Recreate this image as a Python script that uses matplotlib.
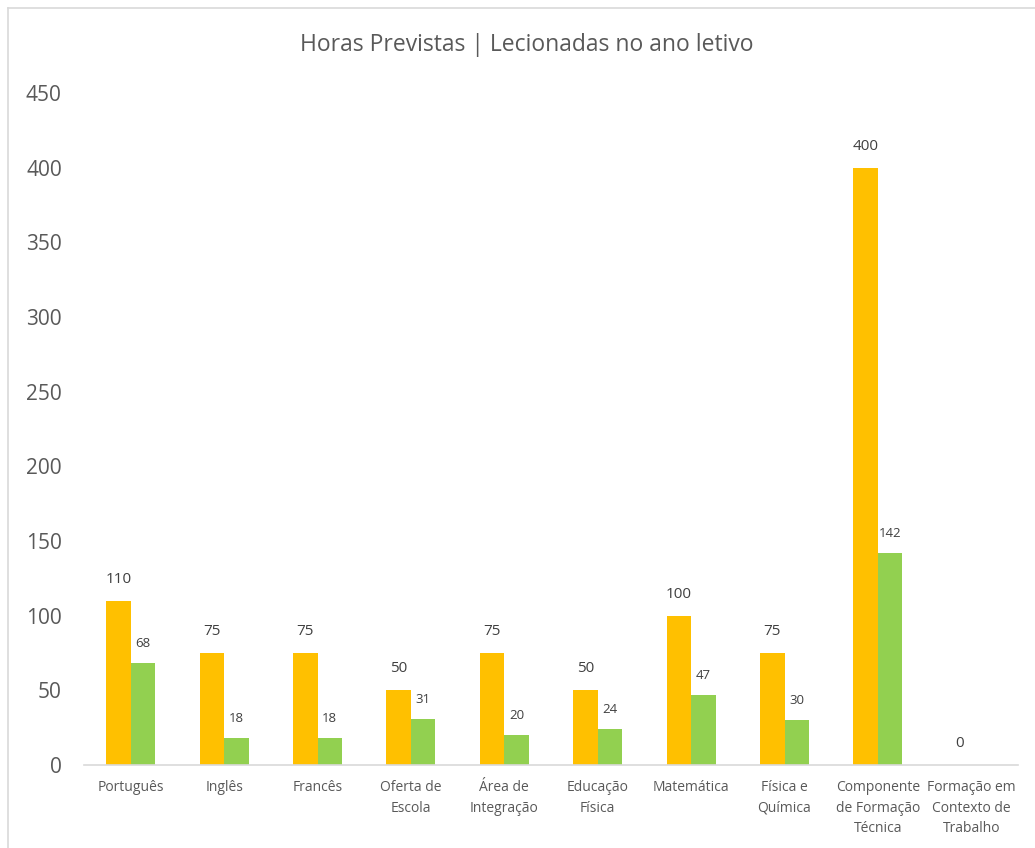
import matplotlib
matplotlib.use("Agg")
import matplotlib.pyplot as plt
import numpy as np

categories = ["Português", "Inglês", "Francês", "Oferta de\nEscola", "Área de\nIntegração",
              "Educação\nFísica", "Matemática", "Física e\nQuímica",
              "Componente\nde Formação\nTécnica", "Formação em\nContexto de\nTrabalho"]
previstas = [110, 75, 75, 50, 75, 50, 100, 75, 400, 0]
lecionadas = [68, 18, 18, 31, 20, 24, 47, 30, 142, None]
yticks = [0, 50, 100, 150, 200, 250, 300, 350, 400, 450]

plt.rcParams['font.family'] = ['Open Sans', 'DejaVu Sans']
TXT = "#595959"
ORANGE = "#FFC000"
GREEN = "#92D050"

W, H = 1035, 848
fig = plt.figure(figsize=(W / 100, H / 100), dpi=100)
ax = fig.add_axes([84 / W, 1 - 765 / H, (1018 - 84) / W, (765 - 93) / H])

x = np.arange(len(categories))
bw = 0.262
prev_vals = [v if v is not None else 0 for v in previstas]
lec_vals = [v if v is not None else 0 for v in lecionadas]
ax.bar(x - bw / 2, prev_vals, bw, color=ORANGE, zorder=2)
ax.bar(x + bw / 2, lec_vals, bw, color=GREEN, zorder=2)

for xi, v in zip(x, previstas):
    if v is not None:
        ax.annotate(str(v), (xi - bw / 2, v), xytext=(0, 10), textcoords="offset points",
                    ha="center", va="bottom", fontsize=11, color="#404040")
for xi, v in zip(x, lecionadas):
    if v is not None:
        ax.annotate(str(v), (xi + bw / 2, v), xytext=(0, 9.5), textcoords="offset points",
                    ha="center", va="bottom", fontsize=9.5, color="#404040")

ax.set_xlim(-0.5, len(categories) - 0.5)
ax.set_ylim(0, 450)
ax.set_yticks(yticks)
ax.set_yticklabels([str(t) for t in yticks], fontsize=15, color=TXT)
ax.set_xticks(x)
ax.set_xticklabels(categories, fontsize=10, color=TXT, linespacing=1.48, va="top")
ax.tick_params(axis="both", length=0)
ax.tick_params(axis="y", pad=16)
ax.tick_params(axis="x", pad=11)
for s in ["top", "right", "left"]:
    ax.spines[s].set_visible(False)
ax.spines["bottom"].set_color("#D9D9D9")
ax.spines["bottom"].set_linewidth(1.2)

fig.text(527 / W, 1 - 45 / H, "Horas Previstas | Lecionadas no ano letivo",
         ha="center", va="center", fontsize=16.5, color=TXT)

# chart border
fig.add_artist(plt.Line2D([7.5 / W, 1.0], [1 - 7.5 / H, 1 - 7.5 / H],
                          transform=fig.transFigure, color="#D9D9D9", lw=1.2))
fig.add_artist(plt.Line2D([7.5 / W, 7.5 / W], [0.0, 1 - 7.5 / H],
                          transform=fig.transFigure, color="#D9D9D9", lw=1.2))

fig.savefig("out.png", dpi=100)
